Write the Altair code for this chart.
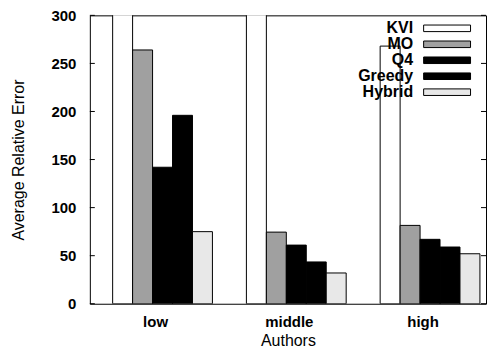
import altair as alt
import pandas as pd

groups = ["low", "middle", "high"]
series = ["KVI", "MO", "Q4", "Greedy", "Hybrid"]

kvi = [330, 330, 268]      # low / middle run off the top of the plot
mo = [264, 74.5, 81.5]
q4 = [142, 61, 67]
greedy = [196, 43.5, 59]
hybrid = [75, 32, 52]

y_ticks = [0, 50, 100, 150, 200, 250, 300]
colors = ["#ffffff", "#a0a0a0", "#000000", "#000000", "#e8e8e8"]

FONT = "Liberation Sans"
W, H = 397, 289

rows = []
for s, vals in zip(series, [kvi, mo, q4, greedy, hybrid]):
    for g, v in zip(groups, vals):
        rows.append({"group": g, "series": s, "value": v})
df = pd.DataFrame(rows)

fill_scale = alt.Scale(domain=series, range=colors)
yscale = alt.Scale(domain=[0, 300], nice=False, zero=True)

bars = alt.Chart(df).mark_bar(stroke="black", strokeWidth=1, clip=True).encode(
    x=alt.X(
        "group:N",
        sort=groups,
        scale=alt.Scale(paddingInner=0.254, paddingOuter=0.108, align=0.79),
        axis=alt.Axis(
            title="Authors", labelAngle=0, labelOffset=-7, ticks=False, domain=False,
            labelPadding=11, titlePadding=3, labelFont=FONT, labelFontSize=15,
            labelFontWeight="bold", labelColor="black", titleFont=FONT,
            titleFontSize=16, titleFontWeight="normal", titleColor="black",
        ),
    ),
    xOffset=alt.XOffset("series:N", sort=series, scale=alt.Scale(paddingInner=0, paddingOuter=0)),
    y=alt.Y(
        "value:Q",
        scale=yscale,
        axis=alt.Axis(
            values=y_ticks, title="Average Relative Error", ticks=False, domain=False,
            grid=False, labelPadding=14, titlePadding=24, labelFont=FONT,
            labelFontSize=15, labelFontWeight="bold", labelColor="black",
            titleFont=FONT, titleFontSize=16, titleFontWeight="normal", titleColor="black",
        ),
    ),
    fill=alt.Fill("series:N", sort=series, scale=fill_scale, legend=None),
)

tick_df = pd.DataFrame({"v": y_ticks})
left_ticks = alt.Chart(tick_df).mark_rule(color="black", strokeWidth=1).encode(
    y=alt.Y("v:Q", scale=yscale, axis=None), x=alt.value(0), x2=alt.value(5)
)
right_ticks = alt.Chart(tick_df).mark_rule(color="black", strokeWidth=1).encode(
    y=alt.Y("v:Q", scale=yscale, axis=None), x=alt.value(W - 5), x2=alt.value(W)
)

leg_df = pd.DataFrame({"series": series})
leg_y = alt.Y("series:N", sort=series, scale=alt.Scale(type="point", range=[13, 77], padding=0), axis=None)
rect_path = "M-1,-0.14L1,-0.14L1,0.14L-1,0.14Z"
leg_sym = alt.Chart(leg_df).mark_point(
    shape=rect_path, size=47 * 47, filled=True, stroke="black", strokeWidth=1, opacity=1
).encode(
    x=alt.value(358),
    y=leg_y,
    fill=alt.Fill("series:N", sort=series, scale=fill_scale, legend=None),
)
leg_txt = alt.Chart(leg_df).mark_text(
    align="right", baseline="middle", font=FONT, fontSize=16, fontWeight="bold", color="black"
).encode(x=alt.value(324), y=leg_y, text="series:N")

chart = (
    alt.layer(bars, left_ticks, right_ticks, leg_sym, leg_txt)
    .resolve_scale(y="independent")
    .properties(
        width=W, height=H,
        autosize=alt.AutoSizeParams(type="none"),
        padding={"left": 82, "top": 7, "right": 1, "bottom": 50},
    )
    .configure_view(stroke="black", strokeWidth=1)
    .configure_axis(grid=False)
)

chart.save("out.html", embed_options={"renderer": "svg", "actions": False})
